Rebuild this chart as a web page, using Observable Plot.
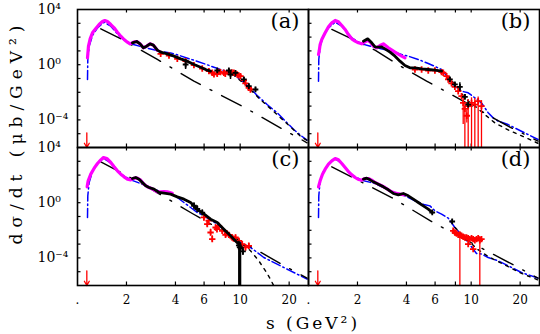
<!DOCTYPE html>
<html><head><meta charset="utf-8">
<script src="https://cdn.jsdelivr.net/npm/d3@7"></script>
<script src="https://cdn.jsdelivr.net/npm/@observablehq/plot@0.6"></script>
<style>body{margin:0;background:#fff}</style>
</head><body><div id="chart"></div>
<script>
// ---- axis values ----
const xTicks = [2, 4, 6, 8, 10, 20];
const xLabelVals = [1, 2, 4, 6, 10, 20];
const xLabelText = [".", "2", "4", "6", "10", "20"];
const yDecades = [1e3, 1e2, 1e1, 1, 1e-1, 1e-2, 1e-3, 1e-4, 1e-5];
const yLabelVals = [1e4, 1, 1e-4];
const yLabelText = ["10\u2074", "10\u2070", "10\u207B\u2074"];
const panelLabels = ["(a)", "(b)", "(c)", "(d)"];

// threshold arrow: [s, top, bottom]
const arrowS = [1.141, 1.15e-5, 1e-6];

// ---- panel (a) ----
const magentaA = [[1.152,3.15],[1.168,22],[1.196,75],[1.236,204],[1.296,420],[1.358,818],[1.423,1350],[1.472,1600],[1.528,1350],[1.602,818],[1.679,469],[1.759,228],[1.845,117],[1.933,67],[2.027,43],[2.104,32.5],[2.227,45],[2.312,48],[2.424,32.5],[2.541,16.7],[2.663,22],[2.791,32.5],[2.926,26],[3.096,11.3]];
const blackA = [[2.175,38.5],[2.312,48],[2.424,32.5],[2.541,16.7],[2.663,22],[2.791,32.5],[2.926,26],[3.096,11.3],[3.245,8.1],[3.566,6.1],[3.918,4.15],[4.305,2.66],[4.73,1.8],[5.197,1.03],[5.709,0.66],[6.275,0.40],[6.577,0.34]];
const blackPtsA = [[4.62,1.03,0.45,2.38],[7.23,0.38,0.3,0.48],[8.52,0.38,0.3,0.48],[8.72,0.195,0.085,0.34],[9.36,0.258,0.2,0.33],[10.53,0.085,0.06,0.12],[11.3,0.028,0.02,0.04],[12.42,0.016,0.011,0.023]];
const redA = [[3.245,6.1],[3.651,4.65],[4.107,2.66],[4.619,1.8],[5.197,0.93],[5.845,0.53],[6.424,0.34],[6.734,0.26,0.17,0.36],[6.9,0.2],[7.228,0.23,0.12,0.3],[7.4,0.3],[7.573,0.29],[7.939,0.26],[8.1,0.22],[8.521,0.30],[8.9,0.28],[9.146,0.26],[9.585,0.195],[9.8,0.17],[10.05,0.148],[10.53,0.076],[10.78,0.044,0.03,0.065],[11.3,0.021],[11.57,0.016]];
const blueA = [[1.152,0.085],[1.157,2.4],[1.179,22],[1.236,131],[1.327,469],[1.458,1208],[1.602,619],[1.845,88],[2.124,32.5],[2.564,18],[3.323,8.6],[3.738,7.2],[4.107,5.2],[5.197,2.1],[5.985,1.2],[6.894,0.66],[7.573,0.45],[8.724,0.26],[10.05,0.085],[11.3,0.025],[12.72,0.0059],[14.64,0.0013],[16.87,3.3e-4],[18.97,8.1e-5],[21.34,2.0e-5],[23.46,7.8e-6],[25.77,3.4e-6]];
const longA = [[1.391,397],[1.845,75],[3.096,2.4],[5.197,0.064],[10.53,8.5e-4],[20.36,1.03e-5],[25.77,2.2e-6]];
const dotA = [[7.228,0.40],[9.146,0.17],[11.04,0.028],[13.1,0.0035],[16.1,4e-4],[19.5,5e-5],[23.7,6e-6],[26,3e-6]];

// ---- panel (b) ----
const magentaB = [[1.152,5.5],[1.163,9.6],[1.179,29],[1.207,67],[1.266,204],[1.327,555],[1.391,1080],[1.458,1600],[1.528,1276],[1.602,693],[1.679,356],[1.759,154],[1.845,75],[1.933,51],[2.027,38.5],[2.124,32.5],[2.227,45],[2.312,60],[2.389,45],[2.505,22],[2.626,16.7],[2.752,24.6],[2.885,32.5],[3.096,16.7],[3.403,8.1],[3.738,4.15],[3.918,3.15]];
const blackB = [[2.175,50.7],[2.312,74.8],[2.447,38.5],[2.564,19.7],[2.688,18.7],[2.818,19.7],[2.953,14.1],[3.17,8.1],[3.403,4.15],[3.651,1.8],[3.918,0.875],[4.205,0.593],[4.512,0.593],[4.958,0.5],[5.447,0.449],[5.985,0.40],[6.577,0.34]];
const blackPtsB = [[7.4,0.085,0.06,0.12],[7.94,0.037,0.025,0.05],[8.52,0.025,0.012,0.049],[9.15,0.0047,0.003,0.007],[9.59,0.0013,0.0008,0.002]];
const redB = [[4.512,0.45],[4.958,0.45],[5.447,0.38],[5.985,0.38],[6.577,0.29],[6.734,0.26],[7.061,0.148],[7.228,0.085],[7.573,0.044],[7.939,0.025],[8.322,0.012],[8.724,0.0053],[8.931,0.0017,4.6e-5,0.004],[9.146,6.3e-4,1e-7,0.0017],[9.4,2e-4,6e-5,5e-4],[9.585,9.9e-4,1e-7,0.003],[10.05,0.0017,1e-7,0.004],[10.53,0.0013,1e-7,0.0035],[11.04,0.0023,1e-7,0.0045],[11.57,9.9e-4,1e-7,0.0025]];
const blueB = [[1.152,0.064],[1.157,2.4],[1.179,22],[1.236,131],[1.327,469],[1.458,1208],[1.602,619],[1.845,88],[2.124,32.5],[2.564,18],[3.245,9.6],[3.738,5.5],[4.107,4.15],[4.73,2.4],[5.447,1.22],[6.577,0.45],[7.228,0.11],[7.939,0.028],[8.724,0.012],[9.585,0.0092],[10.53,0.004],[11.57,0.0017],[12.72,3.3e-4],[13.65,1.4e-4],[14.64,8.1e-5],[16.87,4.6e-5],[20.36,1.5e-5],[25.77,3.8e-6]];
const longB = [[1.391,356],[1.845,75],[2.564,11.3],[3.918,0.5],[5.321,0.064],[7.228,0.0092],[16.87,3.5e-5],[25.77,2.9e-6]];
const dotB = [[6.577,0.40],[7.4,0.09],[8.13,0.03],[8.93,0.006],[9.8,0.0018],[10.8,8e-4],[12.1,2.5e-4],[14,6e-5],[17,1.8e-5],[21,6e-6],[25.8,2e-6]];

// ---- panel (c) ----
const magentaC = [[1.146,14.1],[1.163,38.5],[1.207,117],[1.266,318],[1.327,693],[1.391,1276],[1.444,1884],[1.514,1596],[1.602,818],[1.679,397],[1.759,204],[1.845,117],[1.933,75],[2.027,51],[2.124,45],[2.227,60],[2.334,60],[2.447,43],[2.564,22],[2.688,14.1],[2.818,11.3],[2.953,8.6],[3.096,6.1],[3.245,6.1],[3.403,6.5],[3.566,6.1],[3.826,4.9]];
const blackC = [[2.175,56.8],[2.28,67],[2.389,50.7],[2.505,29.1],[2.626,16.7],[2.752,12.6],[2.953,9.6],[3.17,5.5],[3.403,4.9],[3.738,4.15],[4.107,2.66],[4.512,1.8],[4.958,1.03],[5.321,0.45],[5.578,0.26],[5.845,0.195],[6.577,0.064],[7.228,0.037],[7.939,0.012],[8.724,0.004],[9.363,0.0017],[9.813,9.9e-4],[10.05,5.7e-4]];
const blackPtsC = [[5.2,0.6,0.35,1.0],[5.45,0.35,0.2,0.6],[5.85,0.19,0.12,0.3],[9.81,8e-4,1e-7,0.0016],[9.93,6e-4,1e-7,0.0014],[10.05,5e-4,1e-7,0.0012],[10.4,3e-4,1.5e-4,6e-4]];
const redC = [[5.985,0.085,0.05,0.13],[6.275,0.028,0.017,0.045],[6.4,0.05],[6.577,0.0069,0.004,0.012],[6.734,0.0023,0.0014,0.004],[7.061,0.016,0.009,0.025],[7.2,0.012],[7.4,0.021,0.013,0.03],[7.755,0.0092,0.006,0.014],[8.128,0.0047,0.003,0.0075],[8.3,0.006],[8.521,0.0047,0.003,0.007],[8.931,0.003,0.002,0.0045],[9.1,0.0025],[9.363,0.003,0.002,0.0045],[9.813,0.0017,0.0011,0.0026],[10.29,9.9e-4,6e-4,0.0016],[10.78,5.7e-4,3.5e-4,9e-4],[11.3,7.5e-4,4.5e-4,0.0012]];
const blueC = [[1.152,0.085],[1.157,3.15],[1.179,29],[1.236,182],[1.327,693],[1.444,1687],[1.602,774],[1.845,117],[2.124,45],[2.564,20],[3.245,6.1],[3.738,4.15],[4.107,2.38],[4.512,1.03],[4.958,0.45],[5.447,0.195],[5.985,0.112],[7.228,0.028],[8.724,0.0047],[10.05,0.0013],[11.57,5.7e-4],[12.72,2.5e-4],[13.97,1.07e-4],[16.87,3.5e-5],[20.36,1.16e-5],[25.77,2.9e-6]];
const longC = [[1.391,914],[2.564,19.7],[5.077,0.165],[20.36,1.53e-5],[25.77,3.4e-6]];
const dotC = [[8.724,0.0047],[10.05,0.0013],[11.57,3.3e-4],[13.02,6.1e-5],[14.3,1.16e-5],[15.35,2.9e-6],[16.09,9.4e-7]];

// ---- panel (d) ----
const magentaD = [[1.152,14.1],[1.179,38.5],[1.219,117],[1.266,269],[1.327,619],[1.391,1081],[1.458,1596],[1.528,1276],[1.602,693],[1.679,356],[1.759,182],[1.845,104],[1.933,67],[2.027,48],[2.124,43],[2.227,56.8],[2.334,56.8],[2.447,43],[2.564,29.1],[2.752,19.7],[2.953,12.6],[3.17,7.2],[3.403,4.9],[3.651,4.15],[3.918,3.7]];
const blackD = [[2.175,50.7],[2.28,60],[2.389,45.4],[2.505,32.5],[2.688,22],[2.885,14.1],[3.096,8.6],[3.323,4.65],[3.566,3.7],[3.826,4.65],[4.107,3.15],[4.408,1.8],[4.73,1.03],[5.077,0.59],[5.447,0.34],[5.763,0.195]];
const blackPtsD = [[5.763,0.195,0.15,0.26],[7.645,0.0435,0.033,0.06]];
const redD = [[7.755,0.0092,0.007,0.012],[7.939,0.0069],[8.128,0.0059],[8.322,0.0047,0.0035,0.0065],[8.521,0.0047,1e-7,0.008],[8.724,0.004],[8.931,0.0034,0.0024,0.0048],[9.146,0.003],[9.363,0.003],[9.585,0.0027,0.0018,0.004],[9.813,0.0023],[10.05,0.0027],[10.29,0.0023,0.0015,0.0035],[10.53,0.0019],[10.78,0.0023],[11.04,0.0027],[11.3,0.0019,1e-7,0.0035],[11.57,0.0023],[9.585,9.9e-4],[10.29,4.3e-4]];
const blueD = [[1.152,0.085],[1.157,3.15],[1.179,38.5],[1.236,182],[1.327,619],[1.458,1596],[1.602,693],[1.845,104],[2.124,43],[2.564,24.6],[3.245,6.5],[3.918,3.15],[4.512,1.36],[5.197,0.70],[5.578,0.59],[5.985,0.26],[6.577,0.148],[7.228,0.076],[7.939,0.016],[8.724,0.0047],[9.585,0.0013],[10.29,4.3e-4],[10.78,2.1e-4],[11.57,1.9e-4],[12.72,1.07e-4],[14.64,6.1e-5],[16.87,2.7e-5],[20.36,8.8e-6],[25.77,3.4e-6]];
const longD = [[1.391,397],[3.245,2.38],[5.985,0.031],[20.36,1.53e-5],[25.77,3.4e-6]];
const dotD = [[7.939,0.016],[9.585,0.0018],[11.0,4e-4],[12.7,1.3e-4],[14.6,5.5e-5],[16.9,2.3e-5],[20.4,7.5e-6],[25.8,2.5e-6]];

// ---- assemble ----
const P = [
  {col:0,row:0,label:panelLabels[0],magenta:magentaA,black:blackA,blackPts:blackPtsA,red:redA,blue:blueA,long:longA,dot:dotA},
  {col:1,row:0,label:panelLabels[1],magenta:magentaB,black:blackB,blackPts:blackPtsB,red:redB,blue:blueB,long:longB,dot:dotB},
  {col:0,row:1,label:panelLabels[2],magenta:magentaC,black:blackC,blackPts:blackPtsC,red:redC,blue:blueC,long:longC,dot:dotC},
  {col:1,row:1,label:panelLabels[3],magenta:magentaD,black:blackD,blackPts:blackPtsD,red:redD,blue:blueD,long:longD,dot:dotD}
];
const rowsOf = key => P.flatMap(p => p[key].map(([s,v,lo,hi]) => ({s,v,lo,hi,col:p.col,row:p.row})));
const barsOf = key => rowsOf(key).filter(d => d.lo != null);
const arrows = P.map(p => ({s:arrowS[0], v1:arrowS[1], v2:arrowS[2], col:p.col, row:p.row}));
const yLab = P.filter(p => p.col === 0).flatMap(p => yLabelVals.map((v,i) => ({v, t:yLabelText[i], col:0, row:p.row})));
const xLab = P.filter(p => p.row === 1).flatMap(p => xLabelVals.map((s,i) => ({s, t:xLabelText[i], col:p.col, row:1})));
const pLab = P.map(p => ({t:p.label, col:p.col, row:p.row}));

const W = 540, H = 334, mL = 76, mR = 1, mT = 8, mB = 49;
const facetW = (W - mL - mR) / 2, facetH = (H - mT - mB) / 2;
const F = {fx:"col", fy:"row"};

const svg = Plot.plot({
  width: W, height: H, marginLeft: mL, marginRight: mR, marginTop: mT, marginBottom: mB,
  style: {fontFamily: "'DejaVu Serif', serif", background: "white", color: "black"},
  x: {type: "log", domain: [1, 26.3], axis: null},
  y: {type: "log", domain: [1e-6, 1e4], axis: null},
  fx: {domain: [0, 1], padding: 0, axis: null},
  fy: {domain: [0, 1], padding: 0, axis: null},
  marks: [
    Plot.ruleY(yDecades, {y: d => d, insetRight: facetW - 4, strokeWidth: 1.2}),
    Plot.ruleX(xTicks, {x: d => d, insetTop: facetH - 4, strokeWidth: 1.2}),
    Plot.ruleX(xTicks, {x: d => d, insetBottom: facetH - 4, strokeWidth: 1.2}),
    Plot.line(rowsOf("blue"), {...F, x:"s", y:"v", stroke:"#0000ff", strokeWidth:1.5, strokeDasharray:"9,3,1.5,3", clip:true}),
    Plot.line(rowsOf("long"), {...F, x:"s", y:"v", stroke:"black", strokeWidth:1.4, strokeDasharray:"22,11,2,11", clip:true}),
    Plot.line(rowsOf("dot"), {...F, x:"s", y:"v", stroke:"black", strokeWidth:1.4, strokeDasharray:"3,5", clip:true}),
    Plot.line(rowsOf("magenta"), {...F, x:"s", y:"v", stroke:"#ff00ff", strokeWidth:3.2, clip:true}),
    Plot.ruleX(barsOf("red"), {...F, x:"s", y1:"lo", y2:"hi", stroke:"#ff0000", strokeWidth:1.3, clip:true}),
    Plot.dot(rowsOf("red"), {...F, x:"s", y:"v", symbol:"plus", r:2.2, stroke:"#ff0000", strokeWidth:1.8, clip:true}),
    Plot.line(rowsOf("black"), {...F, x:"s", y:"v", stroke:"black", strokeWidth:2.8, clip:true}),
    Plot.ruleX(barsOf("blackPts"), {...F, x:"s", y1:"lo", y2:"hi", stroke:"black", strokeWidth:1.5, clip:true}),
    Plot.dot(rowsOf("blackPts"), {...F, x:"s", y:"v", symbol:"plus", r:2.0, stroke:"black", strokeWidth:1.8, clip:true}),
    Plot.arrow(arrows, {...F, x1:"s", x2:"s", y1:"v1", y2:"v2", stroke:"#ff0000", strokeWidth:1.3, headLength:6}),
    Plot.frame({strokeWidth: 1.6}),
    Plot.text(pLab, {...F, text:"t", frameAnchor:"top-right", dx:-9, dy:4, fontSize:21}),
    Plot.text(yLab, {...F, y:"v", text:"t", frameAnchor:"left", dx:-40, textAnchor:"start", lineAnchor:"middle", fontSize:14}),
    Plot.text(xLab, {...F, x:"s", text:"t", frameAnchor:"bottom", dy:15, lineAnchor:"middle", fontSize:12})
  ]
});

const g = d3.select(svg);
g.append("text")
  .attr("transform", "translate(22,132) rotate(-90)")
  .attr("text-anchor", "middle")
  .attr("font-size", 17)
  .attr("letter-spacing", 6)
  .attr("fill", "black")
  .text("d\u03C3/dt (\u03BCb/GeV\u00B2)");
g.append("text")
  .attr("x", 313).attr("y", 329)
  .attr("text-anchor", "middle")
  .attr("font-size", 17)
  .attr("letter-spacing", 3)
  .attr("fill", "black")
  .text("s (GeV\u00B2)");

document.getElementById("chart").appendChild(svg);
</script>
</body></html>
